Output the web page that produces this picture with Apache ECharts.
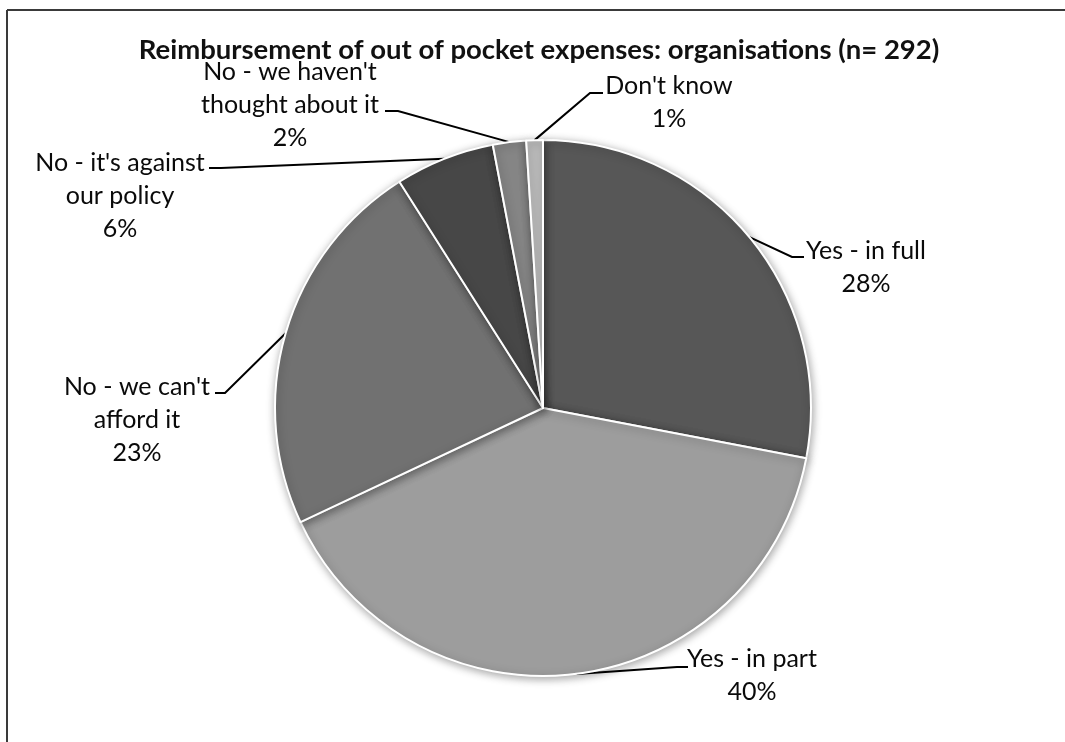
<!DOCTYPE html>
<html>
<head>
<meta charset="utf-8">
<script src="https://cdn.jsdelivr.net/npm/echarts@6/dist/echarts.min.js"></script>
<style>
  html, body { margin: 0; padding: 0; background: #fff; }
  #chart { width: 1065px; height: 742px; }
</style>
</head>
<body>
<div id="chart"></div>
<script>
// Survey answers, clockwise from 12 o'clock
const categories = [
  'Yes - in full',
  'Yes - in part',
  "No - we can't\nafford it",
  "No - it's against\nour policy",
  "No - we haven't\nthought about it",
  "Don't know"
];
const shares = [28, 40, 23, 6, 2, 1];
const sliceColors = ['#575757', '#9d9d9d', '#717171', '#474747', '#858585', '#bbbbbb'];
const titleText = 'Reimbursement of out of pocket expenses: organisations (n= 292)';

// Where each label block sits and where its leader line meets the text
const labelSpots = [
  { cx: 866, cy: 267, end: [804, 257], elbow: [792, 257] },
  { cx: 752, cy: 675, end: [688, 667], elbow: [677, 667] },
  { cx: 137, cy: 420, end: [215, 393], elbow: [225, 393] },
  { cx: 120, cy: 196, end: [209, 168], elbow: [221, 168] },
  { cx: 290, cy: 105, end: [385, 111], elbow: [398, 111] },
  { cx: 669, cy: 102, end: [603, 93],  elbow: [590, 93] }
];

const FONT = 'Lato, "Open Sans", sans-serif';

const chart = echarts.init(document.getElementById('chart'), null, { renderer: 'canvas' });

chart.setOption({
  backgroundColor: '#ffffff',
  animation: false,
  title: {
    text: titleText,
    left: 534,
    top: 31,
    textAlign: 'center',
    textStyle: { fontFamily: FONT, fontWeight: 'bold', fontSize: 27.5, color: '#111' }
  },
  graphic: [
    { type: 'line', shape: { x1: 7, y1: 10, x2: 1066, y2: 10 }, style: { stroke: '#3a3a3a', lineWidth: 2 } },
    { type: 'line', shape: { x1: 7, y1: 10, x2: 7, y2: 743 }, style: { stroke: '#3a3a3a', lineWidth: 2 } }
  ],
  series: [{
    type: 'pie',
    center: [543, 408],
    radius: 268,
    startAngle: 90,
    clockwise: true,
    avoidLabelOverlap: false,
    data: categories.map((name, i) => ({
      name: name,
      value: shares[i],
      itemStyle: { color: sliceColors[i] }
    })),
    itemStyle: {
      borderColor: '#ffffff',
      borderWidth: 2,
      shadowBlur: 8,
      shadowColor: 'rgba(0,0,0,0.35)',
      shadowOffsetX: 1,
      shadowOffsetY: 2
    },
    label: {
      show: true,
      position: 'outside',
      formatter: p => p.name + '\n' + p.value + '%',
      fontFamily: FONT,
      fontSize: 25,
      lineHeight: 33,
      color: '#0a0a0a',
      align: 'center'
    },
    labelLine: {
      show: true,
      length: 20,
      length2: 10,
      lineStyle: { color: '#000', width: 2 }
    },
    labelLayout: function (params) {
      const s = labelSpots[params.dataIndex];
      const start = params.labelLinePoints ? params.labelLinePoints[0] : s.elbow;
      return {
        x: s.cx,
        y: s.cy,
        align: 'center',
        verticalAlign: 'middle',
        labelLinePoints: [start, s.elbow, s.end]
      };
    },
    emphasis: { disabled: true }
  }]
});
</script>
</body>
</html>
